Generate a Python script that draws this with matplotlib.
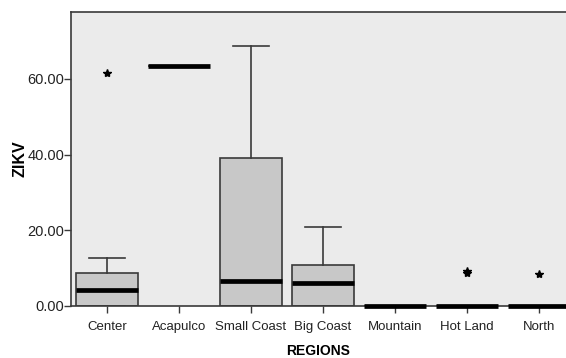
import matplotlib.pyplot as plt

plt.rcParams['font.family'] = ['Liberation Sans', 'DejaVu Sans']

regions = ['Center', 'Acapulco', 'Small Coast', 'Big Coast', 'Mountain', 'Hot Land', 'North']
q1 = [0.0, 63.3, 0.0, 0.0, 0.0, 0.0, 0.0]
medians = [4.1, 63.3, 6.6, 6.0, 0.0, 0.0, 0.0]
q3 = [8.7, 63.3, 39.2, 10.7, 0.0, 0.0, 0.0]
whis_lo = [0.0, 63.3, 0.0, 0.0, 0.0, 0.0, 0.0]
whis_hi = [12.8, 63.3, 68.6, 20.9, 0.0, 0.0, 0.0]
outliers = [[61.6], [], [], [], [], [9.3, 8.8], [8.5]]

stats = []
for i, name in enumerate(regions):
    stats.append(dict(label=name, q1=q1[i], med=medians[i], q3=q3[i],
                      whislo=whis_lo[i], whishi=whis_hi[i], fliers=outliers[i]))

fig = plt.figure(figsize=(5.66, 3.58), dpi=100)
ax = fig.add_axes([0.1254, 0.1453, 0.8746, 0.8212])
ax.set_facecolor('#ebebeb')

edge = '#3a3a3a'
parts = ax.bxp(stats, positions=range(len(regions)), widths=0.85, capwidths=0.5,
               patch_artist=True, showfliers=True,
               boxprops=dict(facecolor='#c8c8c8', edgecolor=edge, linewidth=1.2),
               medianprops=dict(color='black', linewidth=3.4, solid_capstyle='butt'),
               whiskerprops=dict(color=edge, linewidth=1.2),
               capprops=dict(color=edge, linewidth=1.2),
               flierprops=dict(marker='*', markerfacecolor='black', markeredgecolor='black',
                               markersize=6, linestyle='none'))
# flat boxes sit on the axis line, keep their medians fully visible
for m in parts['medians']:
    m.set_clip_on(False)
    m.set_zorder(5)

ax.set_xlim(-0.5, 6.375)
ax.set_ylim(0, 77.7)
ax.set_yticks([0, 20, 40, 60])
ax.set_yticklabels(['0.00', '20.00', '40.00', '60.00'])
ax.set_xticks(range(len(regions)))
ax.set_xticklabels(regions)
ax.tick_params(axis='both', direction='out', length=5, width=1, color=edge,
               labelcolor='#222222')
ax.tick_params(axis='y', pad=0, labelsize=10.5)
ax.tick_params(axis='x', pad=6, labelsize=9.5)

for s in ['left', 'bottom', 'top']:
    ax.spines[s].set_color(edge)
    ax.spines[s].set_linewidth(1.2)
ax.spines['right'].set_visible(False)

ax.set_ylabel('ZIKV', fontweight='bold', fontsize=11.5, va='center')
ax.yaxis.set_label_coords(-0.103, 0.5)
ax.set_xlabel('REGIONS', fontweight='bold', fontsize=10, va='center')
ax.xaxis.set_label_coords(0.5, -0.152)

fig.savefig('out.png', dpi=100)
